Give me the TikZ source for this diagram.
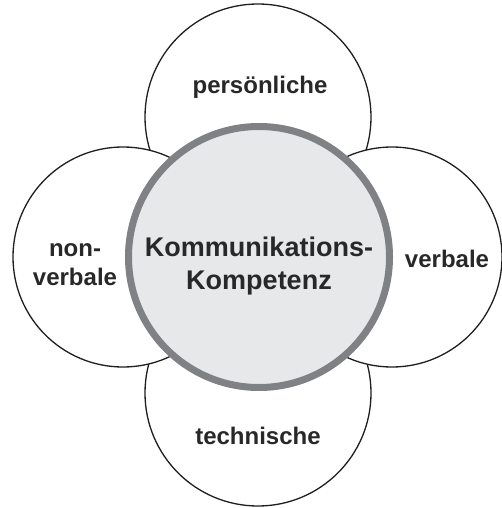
\documentclass[tikz,border=0pt]{standalone}
\usepackage{fontspec}
\setmainfont{Liberation Sans}
\definecolor{ringgray}{RGB}{128,129,132}
\definecolor{fillgray}{RGB}{231,232,234}
\definecolor{txt}{RGB}{40,40,40}
\definecolor{edge}{RGB}{30,30,30}
\begin{document}
\begin{tikzpicture}[x=1pt,y=-1pt,
 petal/.style={circle, draw=edge, line width=1.3pt, fill=white, inner sep=0pt},
 hub/.style={circle, draw=ringgray, line width=7pt, fill=fillgray, minimum size=261pt, inner sep=0pt},
 lbl/.style={font=\fontsize{24}{29}\selectfont\bfseries, text=txt, align=center, inner sep=0pt},
 hublbl/.style={font=\fontsize{27}{33}\selectfont\bfseries, text=txt, align=center, inner sep=0pt}]
\useasboundingbox (0,0) rectangle (502,508);
\node[petal, minimum size=226pt] (top) at (258,117) {};
\node[petal, minimum size=226pt] (bottom) at (258,393) {};
\node[petal, minimum size=220pt] (left) at (123,257) {};
\node[petal, minimum size=220pt] (right) at (392,257) {};
\node[hub] (hub) at (259,257) {};
\node[hublbl] (hubtext) at (259,266) {Kommunikations-\\Kompetenz};
\node[lbl] (toptext) at (260,87) {persönliche};
\node[lbl] (bottomtext) at (258,436) {technische};
\node[lbl] (lefttext) at (75,265) {non-\\verbale};
\node[lbl] (righttext) at (447,259) {verbale};
\end{tikzpicture}
\end{document}
